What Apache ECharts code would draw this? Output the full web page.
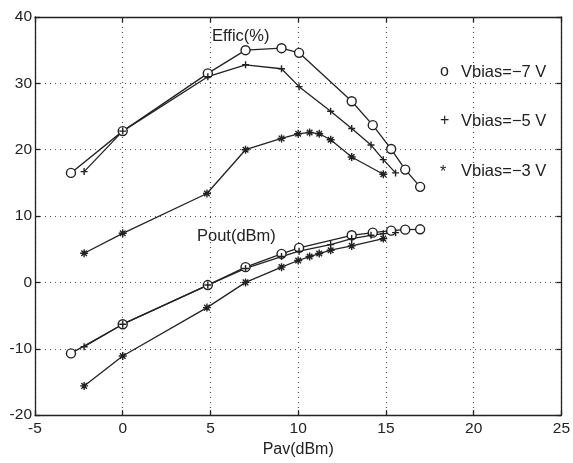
<!DOCTYPE html>
<html>
<head>
<meta charset="utf-8">
<script src="https://cdn.jsdelivr.net/npm/echarts@6/dist/echarts.min.js"></script>
<style>
  html, body { margin: 0; padding: 0; background: #fff; }
  #chart { width: 573px; height: 463px; }
</style>
</head>
<body>
<div id="chart"></div>
<script>
// Pav (dBm) positions for each bias
let pav7 = [-2.95, 0, 4.85, 7.0, 9.05, 10.05, 13.05, 14.25, 15.3, 16.1, 16.95];
let pav5 = [-2.2, 0, 4.85, 7.0, 9.05, 10.05, 11.85, 13.05, 14.15, 14.85, 15.55];
let pav3 = [-2.2, 0, 4.8, 7.0, 9.05, 10.0, 10.65, 11.2, 11.85, 13.05, 14.85];

// efficiency (%)
let effic7 = [16.5, 22.8, 31.5, 35.0, 35.3, 34.6, 27.3, 23.7, 20.1, 17.0, 14.4];
let effic5 = [16.7, 22.8, 31.0, 32.8, 32.2, 29.5, 25.8, 23.2, 20.7, 18.5, 16.5];
let effic3 = [4.4, 7.4, 13.4, 20.0, 21.7, 22.4, 22.6, 22.4, 21.5, 18.9, 16.3];

// output power (dBm)
let pout7 = [-10.7, -6.3, -0.4, 2.3, 4.3, 5.2, 7.1, 7.5, 7.8, 7.95, 8.0];
let pout5 = [-9.7, -6.3, -0.4, 2.1, 3.9, 4.7, 5.7, 6.6, 7.1, 7.35, 7.5];
let pout3 = [-15.6, -11.1, -3.8, 0.0, 2.3, 3.3, 3.9, 4.35, 4.85, 5.5, 6.6];

let xTicks = { min: -5, max: 25, interval: 5 };
let yTicks = { min: -20, max: 40, interval: 10 };

let legendMarks = ['o', '+', '*'];
let legendTexts = ['Vbias=\u22127 V', 'Vbias=\u22125 V', 'Vbias=\u22123 V'];

let ink = '#222';
let font = 'Liberation Sans, Arial, sans-serif';

let plusSym = 'path://M0,5L10,5M5,0L5,10';
let starSym = 'path://M0,5L10,5M5,0L5,10M1.5,1.5L8.5,8.5M8.5,1.5L1.5,8.5';

function pairs(xs, ys) {
  return xs.map((x, i) => [x, ys[i]]);
}

function makeSeries(name, xs, ys, symbol, size) {
  return {
    name: name,
    type: 'line',
    data: pairs(xs, ys),
    symbol: symbol,
    symbolSize: size,
    showAllSymbol: true,
    lineStyle: { color: ink, width: 1.3 },
    itemStyle: { color: symbol === 'circle' ? '#fff' : ink, borderColor: ink, borderWidth: 1.4 },
    emphasis: { disabled: true },
    animation: false
  };
}

let chart = echarts.init(document.getElementById('chart'));

let axisCommon = {
  type: 'value',
  splitLine: { show: false },
  axisLine: { show: true, onZero: false, lineStyle: { color: ink, width: 1.3 } },
  axisTick: { show: true, inside: true, length: 5, lineStyle: { color: ink, width: 1.3 } }
};

let legendTops = [64, 113, 163];
let graphics = [
  { type: 'text', left: 212, top: 28, style: { text: 'Effic(%)', fill: ink, font: '16.5px ' + font } },
  { type: 'text', left: 197, top: 228, style: { text: 'Pout(dBm)', fill: ink, font: '16.5px ' + font } }
];
legendMarks.forEach((m, i) => {
  graphics.push({ type: 'text', left: 440, top: legendTops[i] + (m === '*' ? 2 : 0),
    style: { text: m, fill: ink, font: '16px ' + font } });
  graphics.push({ type: 'text', left: 461, top: legendTops[i],
    style: { text: legendTexts[i], fill: ink, font: '16.5px ' + font } });
});

chart.setOption({
  backgroundColor: '#fff',
  animation: false,
  grid: { left: 35, right: 10, top: 17, bottom: 41 },
  xAxis: [
    Object.assign({}, axisCommon, {
      min: xTicks.min, max: xTicks.max, interval: xTicks.interval,
      position: 'bottom',
      name: 'Pav(dBm)', nameLocation: 'middle', nameGap: 24,
      nameTextStyle: { color: ink, fontSize: 16, fontFamily: font },
      axisLabel: { color: ink, fontSize: 15.5, fontFamily: font, margin: 6 },
      splitLine: { show: true, lineStyle: { color: '#555', type: [1, 4], width: 1.2 } }
    }),
    Object.assign({}, axisCommon, {
      min: xTicks.min, max: xTicks.max, interval: xTicks.interval,
      position: 'top',
      axisLabel: { show: false }
    })
  ],
  yAxis: [
    Object.assign({}, axisCommon, {
      min: yTicks.min, max: yTicks.max, interval: yTicks.interval,
      position: 'left',
      axisLabel: { color: ink, fontSize: 15.5, fontFamily: font, margin: 3 },
      splitLine: { show: true, lineStyle: { color: '#555', type: [1, 4], width: 1.2 } }
    }),
    Object.assign({}, axisCommon, {
      min: yTicks.min, max: yTicks.max, interval: yTicks.interval,
      position: 'right',
      axisLabel: { show: false }
    })
  ],
  graphic: graphics,
  series: [
    makeSeries('Effic -7', pav7, effic7, 'circle', 9),
    makeSeries('Effic -5', pav5, effic5, plusSym, 7),
    makeSeries('Effic -3', pav3, effic3, starSym, 8),
    makeSeries('Pout -7', pav7, pout7, 'circle', 9),
    makeSeries('Pout -5', pav5, pout5, plusSym, 7),
    makeSeries('Pout -3', pav3, pout3, starSym, 8)
  ]
});
</script>
</body>
</html>
